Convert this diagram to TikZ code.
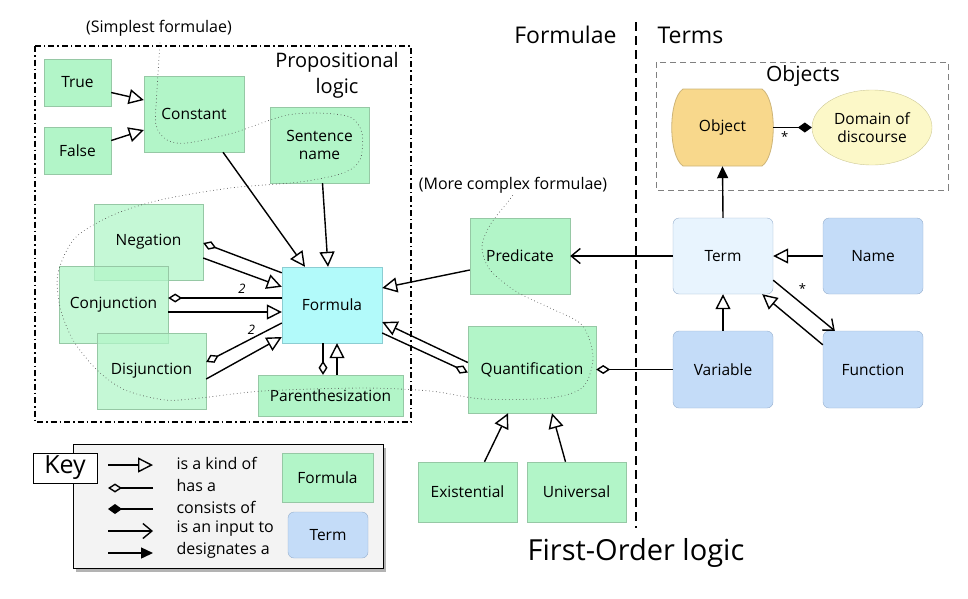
\documentclass[tikz,border=0pt]{standalone}
\usepackage{fontspec}
\setmainfont{Open Sans}
\usetikzlibrary{arrows.meta}
\usetikzlibrary{shapes.geometric}
\usetikzlibrary{shadows}

\definecolor{fgreen}{RGB}{178,245,200}
\definecolor{fgreenline}{RGB}{150,200,165}
\definecolor{fcyan}{RGB}{178,250,250}
\definecolor{fcyanline}{RGB}{140,205,210}
\definecolor{tpale}{RGB}{232,244,254}
\definecolor{tblue}{RGB}{196,220,248}
\definecolor{tblueline}{RGB}{150,175,205}
\definecolor{oorange}{RGB}{248,216,140}
\definecolor{oorangeline}{RGB}{205,180,120}
\definecolor{dyellow}{RGB}{252,248,200}
\definecolor{dyellowline}{RGB}{205,200,150}
\definecolor{keygray}{RGB}{243,243,243}

\begin{document}
\begin{tikzpicture}[x=1pt, y=-1pt,
  fbox/.style={rectangle, draw=fgreenline, fill=fgreen, inner sep=0pt, align=center, font=\fontsize{15.5}{18}\selectfont},
  tbox/.style={fbox, rounded corners=6pt, draw=tblueline, fill=tblue},
  line/.style={line width=1.4pt},
  kindof/.style={line, -{Triangle[open, length=15pt, width=15pt]}},
  hasa/.style={line, -{Diamond[open, length=14pt, width=9pt]}},
  consistsof/.style={line, -{Diamond[length=14pt, width=10pt]}},
  inputto/.style={line, -{Straight Barb[length=9pt, width=15pt]}},
  designates/.style={line, -{Triangle[length=12pt, width=11pt]}},
  heading/.style={font=\fontsize{21}{26}\selectfont, align=center},
  keytext/.style={anchor=west, font=\fontsize{16}{18}\selectfont}]

\useasboundingbox (0,0) rectangle (968,598);

% propositional logic
\draw[line width=1.1pt, dash pattern=on 6pt off 3pt on 1.5pt off 3pt] (35,46) rectangle (411,422);
\node[heading, font=\fontsize{20}{26}\selectfont] (proptitle) at (337,75) {Propositional\\logic};
\node[font=\fontsize{16}{18}\selectfont] (simplest) at (159,28) {(Simplest formulae)};

\node[fbox, minimum width=67pt, minimum height=47pt] (true) at (77.5,82.5) {True};
\node[fbox, minimum width=67pt, minimum height=47pt] (false) at (77.5,150.5) {False};
\node[fbox, minimum width=100pt, minimum height=76pt] (constant) at (194,114) {Constant};
\node[fbox, minimum width=99pt, minimum height=76pt] (sentname) at (319.5,145) {Sentence\\name};
\node[fbox, fill opacity=.75, text opacity=1, minimum width=109pt, minimum height=76pt] (negation) at (148.5,242) {Negation};
\node[fbox, fill opacity=.75, text opacity=1, minimum width=109pt, minimum height=77pt] (conj) at (113.5,304.5) {Conjunction};
\node[fbox, fill opacity=.75, text opacity=1, minimum width=109pt, minimum height=76pt] (disj) at (151.5,371) {Disjunction};
\node[fbox, fill=fcyan, draw=fcyanline, minimum width=100pt, minimum height=76pt] (formula) at (332,305) {Formula};
\node[fbox, minimum width=145pt, minimum height=41pt] (paren) at (330.5,395.5) {Parenthesization};

% first-order formulae
\node[font=\fontsize{16}{18}\selectfont] (complex) at (513,185) {(More complex formulae)};
\node[fbox, minimum width=100pt, minimum height=76pt] (predicate) at (520,256) {Predicate};
\node[fbox, minimum width=128pt, minimum height=87pt] (quant) at (532,369.5) {Quantification};
\node[fbox, minimum width=99pt, minimum height=60pt] (exist) at (467.5,492) {Existential};
\node[fbox, minimum width=99pt, minimum height=60pt] (univ) at (576.5,492) {Universal};

% divider
\coordinate (divtop) at (636,22);
\coordinate (divbot) at (636,528);
\draw[line width=1.4pt, dash pattern=on 9pt off 5pt] (divtop) -- (divbot);
\node[heading, font=\fontsize{23}{26}\selectfont, anchor=east] (formulae) at (620,35) {Formulae};
\node[heading, font=\fontsize{23}{26}\selectfont, anchor=west] (terms) at (654,35) {Terms};
\node[font=\fontsize{29}{32}\selectfont] (fol) at (636,553) {First-Order logic};

% objects
\draw[gray, line width=1pt, dash pattern=on 6pt off 4pt] (656,62) rectangle (948,190);
\node[heading] (objtitle) at (803,76) {Objects};
% barrel shaped object
\draw[draw=oorangeline, fill=oorange, line width=0.8pt] (683,89) -- (762,89)
  .. controls (777,99) and (777,156) .. (762,166) -- (683,166)
  .. controls (668,156) and (668,99) .. (683,89) -- cycle;
\node[fbox, draw=none, fill=none, minimum width=101pt, minimum height=77pt] (object) at (722.5,127.5) {Object};
\node[fbox, ellipse, draw=dyellowline, fill=dyellow, minimum width=120pt, minimum height=75pt] (domain) at (872,127.5) {Domain of\\discourse};

% terms
\node[tbox, fill=tpale, minimum width=100pt, minimum height=76pt] (term) at (723,256) {Term};
\node[tbox, minimum width=100pt, minimum height=76pt] (name) at (873,256) {Name};
\node[tbox, minimum width=100pt, minimum height=77pt] (variable) at (723,369.5) {Variable};
\node[tbox, minimum width=100pt, minimum height=77pt] (function) at (873,369.5) {Function};

% simplest vs complex
\draw[gray!60!black, line width=0.9pt, line cap=round, dash pattern=on 0pt off 3.5pt] plot[smooth] coordinates {
  (160,43) (157,90) (156,125) (167,140) (187,143) (233,133) (283,116) (317,113)
  (350,117) (362,133) (360,160) (343,173) (300,182) (230,188) (160,200) (113,215)
  (75,238) (58,273) (60,307) (73,340) (97,370) (125,390) (165,400) (200,398)
  (263,391) (363,388) (430,391) (483,399) (550,398) (583,387) (593,357) (582,325)
  (550,308) (517,292) (490,270) (482,247) (490,225) (507,203) (513,195)};

% propositional connectors
\draw[kindof] ([yshift=-10pt]true.east) -- ([yshift=14pt]constant.west);
\draw[kindof] ([yshift=10pt]false.east) -- ([yshift=-16pt]constant.west);
\draw[kindof] ([xshift=29pt]constant.south) -- ([xshift=-27pt]formula.north);
\draw[kindof] ([xshift=3pt]sentname.south) -- ([xshift=-4pt]formula.north);
\draw[hasa] ([yshift=-6pt]formula.north west) -- ([yshift=-1pt]negation.east);
\draw[kindof] ([yshift=-16pt]negation.east) -- ([yshift=-20pt]formula.north west);
\draw[hasa] ([yshift=7pt]formula.west) -- node[pos=.35, above, font=\itshape\fontsize{13}{14}\selectfont] {2} ([yshift=6.5pt]conj.east);
\draw[kindof] ([yshift=-7.5pt]conj.east) -- ([yshift=-7pt]formula.west);
\draw[hasa] ([yshift=-18pt]formula.west) -- node[pos=.4, above, font=\itshape\fontsize{13}{14}\selectfont] {2} ([yshift=9pt]disj.east);
\draw[kindof] ([yshift=-8pt]disj.east) -- ([yshift=-32pt]formula.west);
\draw[hasa] ([xshift=-9pt]formula.south) -- ([xshift=-7.5pt]paren.north);
\draw[kindof] ([xshift=6.5pt]paren.north) -- ([xshift=5pt]formula.south);

% first-order connectors
\draw[kindof] ([yshift=-14pt]predicate.west) -- ([yshift=17pt]formula.east);
\draw[kindof] ([yshift=7pt]quant.west) -- ([yshift=-17pt]formula.east);
\draw[hasa] ([yshift=-28pt]formula.east) -- ([yshift=-3pt]quant.west);
\draw[kindof] ([xshift=17pt]exist.north) -- ([xshift=-24pt]quant.south);
\draw[kindof] ([xshift=-11pt]univ.north) -- ([xshift=20pt]quant.south);
\draw[hasa] (variable.west) -- (quant.east);
\draw[inputto] (term.west) -- (predicate.east);

% term connectors
\draw[kindof] (name.west) -- (term.east);
\draw[kindof] (variable.north) -- (term.south);
\draw[inputto] ([yshift=14pt]term.south east) -- node[pos=.35, above right, font=\fontsize{13}{14}\selectfont] {*} ([xshift=12pt]function.north west);
\draw[kindof] ([yshift=-14pt]function.north west) -- ([xshift=-11pt]term.south east);
\draw[designates] (term.north) -- (object.south);
\draw[consistsof] (object.east) -- node[pos=.3, below, font=\fontsize{13}{14}\selectfont] {*} (domain.west);

% key
\draw[fill=keygray, line width=1pt, drop shadow={shadow xshift=3pt, shadow yshift=-4pt, opacity=.6}] (73,444) rectangle (383,568);
\node[draw, fill=white, line width=1pt, minimum width=64pt, minimum height=30pt, inner sep=0pt, font=\fontsize{25}{26}\selectfont] (key) at (65,468) {Key};
\coordinate (k1a) at (108,465); \coordinate (k1b) at (153,465);
\coordinate (k2a) at (108,488); \coordinate (k2b) at (153,488);
\coordinate (k3a) at (108,509); \coordinate (k3b) at (153,509);
\coordinate (k4a) at (108,531); \coordinate (k4b) at (153,531);
\coordinate (k5a) at (108,553); \coordinate (k5b) at (153,553);
\draw[kindof] (k1a) -- (k1b);
\draw[hasa] (k2b) -- (k2a);
\draw[consistsof] (k3b) -- (k3a);
\draw[inputto] (k4a) -- (k4b);
\draw[designates] (k5a) -- (k5b);
\node[keytext] (kt1) at (173,463) {is a kind of};
\node[keytext] (kt2) at (173,485) {has a};
\node[keytext] (kt3) at (173,507) {consists of};
\node[keytext] (kt4) at (173,529) {is an input to};
\node[keytext] (kt5) at (173,550) {designates a};
\node[fbox, minimum width=91pt, minimum height=49pt] (keyformula) at (327.5,477.5) {Formula};
\node[tbox, minimum width=80pt, minimum height=46pt] (keyterm) at (328,535) {Term};

\end{tikzpicture}
\end{document}
